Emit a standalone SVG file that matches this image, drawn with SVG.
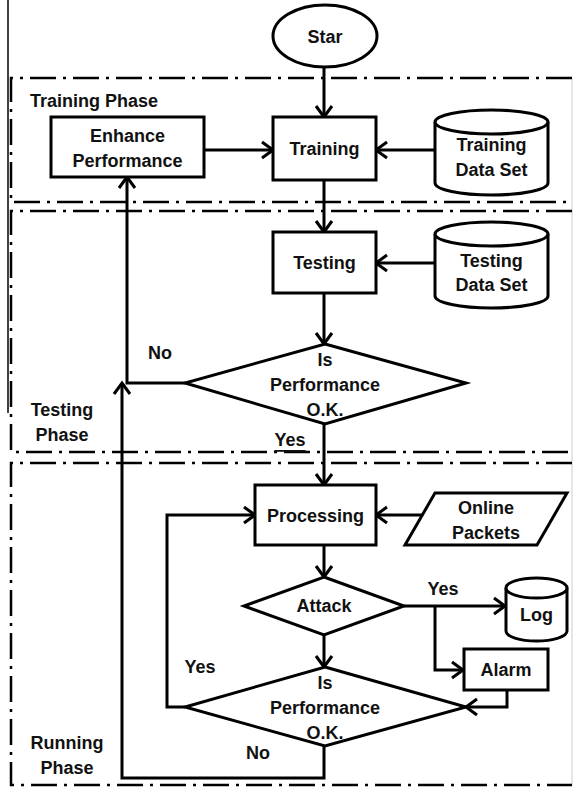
<svg xmlns="http://www.w3.org/2000/svg" width="574" height="791" viewBox="0 0 574 791">
  <style>
    .shape { fill: #fff; stroke: #000; stroke-width: 3; }
    .phase { fill: none; stroke: #000; stroke-width: 2.5; stroke-dasharray: 26 7 3 7; }
    .conn { fill: none; stroke: #000; stroke-width: 3; }
    text { font-family: "Liberation Sans", Arial, sans-serif; font-weight: bold; font-size: 18px; fill: #111; text-anchor: middle; dominant-baseline: central; }
    .lbl { text-anchor: start; }
  </style>
  <defs>
    <marker id="arrow" markerUnits="userSpaceOnUse" markerWidth="16" markerHeight="20" refX="13" refY="10" orient="auto">
      <path d="M2,2 L13,10 L2,18" fill="none" stroke="#000" stroke-width="3"/>
    </marker>
  </defs>

  <rect width="574" height="791" fill="#fff"/>

  <!-- page edges -->
  <line x1="8" y1="0" x2="8" y2="413" stroke="#000" stroke-width="1.5"/>
  <line x1="572" y1="78" x2="572" y2="785" stroke="#ccc" stroke-width="1"/>

  <!-- phase regions -->
  <g id="phase-training">
    <path class="phase" d="M572,78 H11 V202 H572"/>
    <text class="lbl" x="30" y="101">Training Phase</text>
  </g>
  <g id="phase-testing">
    <path class="phase" d="M572,211 H11 V452 H572"/>
    <text x="62" y="410">Testing</text>
    <text x="62" y="435">Phase</text>
  </g>
  <g id="phase-running">
    <path class="phase" d="M572,463 H11 V785 H572"/>
    <text x="67" y="743">Running</text>
    <text x="67" y="768">Phase</text>
  </g>

  <!-- connectors -->
  <g id="connectors">
    <path class="conn" marker-end="url(#arrow)" d="M324,67 V117"/>
    <path class="conn" marker-end="url(#arrow)" d="M204,150 H273"/>
    <path class="conn" marker-end="url(#arrow)" d="M435,150 H376"/>
    <path class="conn" marker-end="url(#arrow)" d="M324,180 V232"/>
    <path class="conn" marker-end="url(#arrow)" d="M435,263 H376"/>
    <path class="conn" marker-end="url(#arrow)" d="M324,293 V344"/>
    <path class="conn" marker-end="url(#arrow)" d="M185,383 H127 V177"/>
    <path class="conn" marker-end="url(#arrow)" d="M324,424 V485"/>
    <path class="conn" marker-end="url(#arrow)" d="M422,515 H376"/>
    <path class="conn" marker-end="url(#arrow)" d="M324,545 V577"/>
    <path class="conn" marker-end="url(#arrow)" d="M404,606 H505"/>
    <path class="conn" marker-end="url(#arrow)" d="M435,606 V670 H463"/>
    <path class="conn" marker-end="url(#arrow)" d="M324,635 V667"/>
    <path class="conn" marker-end="url(#arrow)" d="M507,690 V707 H466"/>
    <path class="conn" marker-end="url(#arrow)" d="M185,707 H167 V515 H255"/>
    <path class="conn" marker-end="url(#arrow)" d="M324,746 V778 H122 V383"/>
    <text x="160" y="353">No</text>
    <text x="290" y="440" text-decoration="underline">Yes</text>
    <text x="443" y="589">Yes</text>
    <text x="200" y="667">Yes</text>
    <text x="258" y="753">No</text>
  </g>

  <!-- nodes -->
  <g id="start">
    <ellipse class="shape" cx="325" cy="36" rx="52" ry="31"/>
    <text x="325" y="37">Star</text>
  </g>
  <g id="enhance">
    <rect class="shape" x="51" y="117" width="153" height="60"/>
    <text x="127.5" y="136">Enhance</text>
    <text x="127.5" y="161">Performance</text>
  </g>
  <g id="training">
    <rect class="shape" x="273" y="117" width="103" height="63"/>
    <text x="324.5" y="149">Training</text>
  </g>
  <g id="training-data">
    <path class="shape" d="M435,122 V183 A56.5,12 0 0 0 548,183 V122"/>
    <ellipse class="shape" cx="491.5" cy="122" rx="56.5" ry="12"/>
    <text x="491.5" y="145">Training</text>
    <text x="491.5" y="170">Data Set</text>
  </g>
  <g id="testing">
    <rect class="shape" x="273" y="232" width="103" height="61"/>
    <text x="324.5" y="263">Testing</text>
  </g>
  <g id="testing-data">
    <path class="shape" d="M435,234 V296 A56.5,12 0 0 0 548,296 V234"/>
    <ellipse class="shape" cx="491.5" cy="234" rx="56.5" ry="12"/>
    <text x="491.5" y="261">Testing</text>
    <text x="491.5" y="285">Data Set</text>
  </g>
  <g id="check-testing">
    <polygon class="shape" points="325,344 466,383 325,424 185,383"/>
    <text x="325" y="360">Is</text>
    <text x="325" y="385">Performance</text>
    <text x="325" y="410">O.K.</text>
  </g>
  <g id="processing">
    <rect class="shape" x="255" y="485" width="121" height="60"/>
    <text x="315.5" y="516">Processing</text>
  </g>
  <g id="online-packets">
    <polygon class="shape" points="435,493 567,493 537,545 405,545"/>
    <text x="486" y="508">Online</text>
    <text x="486" y="533">Packets</text>
  </g>
  <g id="attack">
    <polygon class="shape" points="324,577 404,606 324,635 244,606"/>
    <text x="324" y="606">Attack</text>
  </g>
  <g id="log">
    <path class="shape" d="M506,588 V631 A30.5,10 0 0 0 567,631 V588"/>
    <ellipse class="shape" cx="536.5" cy="588" rx="30.5" ry="10"/>
    <text x="536.5" y="615">Log</text>
  </g>
  <g id="alarm">
    <rect class="shape" x="464" y="649" width="84" height="41"/>
    <text x="506" y="670">Alarm</text>
  </g>
  <g id="check-running">
    <polygon class="shape" points="325,667 466,707 325,746 185,707"/>
    <text x="325" y="683">Is</text>
    <text x="325" y="708">Performance</text>
    <text x="325" y="733">O.K.</text>
  </g>
</svg>
